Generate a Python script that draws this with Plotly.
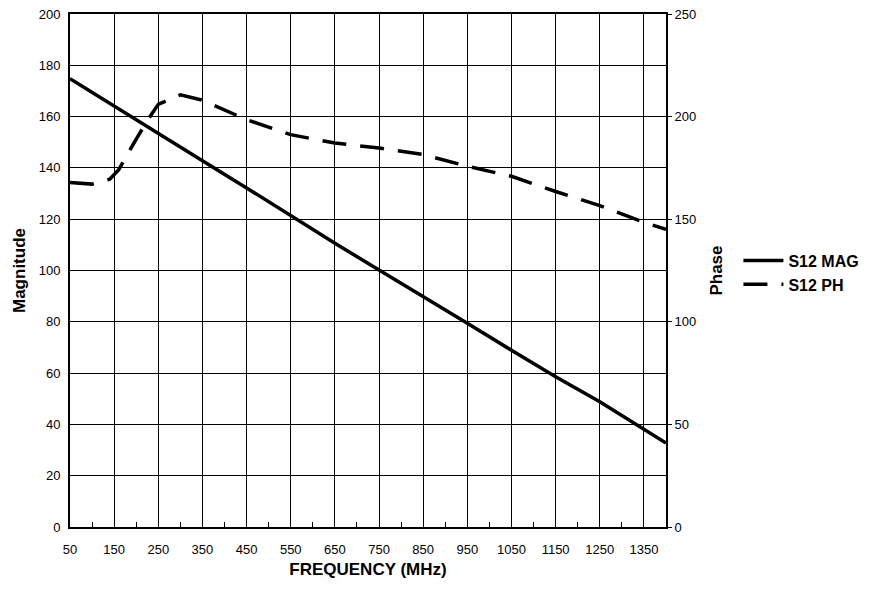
import plotly.graph_objects as go

freq_mag = [50, 150, 250, 350, 450, 550, 650, 750, 850, 950, 1050, 1150, 1250, 1350, 1400]
s12_mag = [174.8, 164.0, 153.6, 142.8, 132.2, 121.3, 110.6, 100.2, 89.6, 79.4, 68.9, 58.6, 48.8, 38.0, 32.7]

freq_ph = [50, 100, 140, 160, 200, 225, 250, 300, 350, 450, 550, 650, 750, 850, 950, 1050, 1150, 1250, 1350, 1400]
s12_ph = [167.9, 167.1, 169.5, 174.0, 189.0, 198.0, 206.0, 210.6, 208.0, 198.5, 191.2, 187.1, 184.7, 181.5, 175.8, 170.9, 163.5, 156.6, 148.5, 145.0]

x_ticks = list(range(50, 1400, 100))
x_minor = list(range(100, 1401, 100))

font = "Liberation Sans, Arial, sans-serif"

fig = go.Figure()
fig.add_trace(go.Scatter(x=freq_mag, y=s12_mag, mode="lines", name="<b>S12 MAG</b>",
                         line=dict(color="black", width=3.5)))
fig.add_trace(go.Scatter(x=freq_ph, y=s12_ph, mode="lines", name="<b>S12 PH</b>", yaxis="y2",
                         line=dict(color="black", width=3.5, dash="24px,14px")))

fig.update_layout(
    width=874, height=592,
    margin=dict(l=70, r=208, t=14, b=65, autoexpand=False),
    paper_bgcolor="white", plot_bgcolor="white",
    font=dict(family=font, size=13, color="black"),
    showlegend=True,
    legend=dict(x=1.1215, y=0.496, xanchor="left", yanchor="middle",
                font=dict(size=16, family=font, color="black"),
                bgcolor="rgba(0,0,0,0)", itemwidth=40),
    xaxis=dict(range=[50, 1400], tickvals=x_ticks, ticks="outside", ticklen=9,
               tickcolor="rgba(0,0,0,0)", showgrid=True, automargin=False,
               gridcolor="black", gridwidth=1, showline=True, linecolor="black",
               linewidth=2, mirror=True, zeroline=False,
               tickfont=dict(size=13),
               minor=dict(tickvals=x_minor, ticks="inside", ticklen=5, tickcolor="black", showgrid=False),
               title=dict(text="<b>FREQUENCY (MHz)</b>", font=dict(size=17), standoff=8)),
    yaxis=dict(range=[0, 200], dtick=20, showgrid=True, gridcolor="black", gridwidth=1,
               showline=True, linecolor="black", linewidth=2, mirror=True, zeroline=False,
               ticks="outside", ticklen=5, tickcolor="rgba(0,0,0,0)", automargin=False,
               tickfont=dict(size=13),
               title=dict(text="<b>Magnitude</b>", font=dict(size=17), standoff=9)),
    yaxis2=dict(range=[0, 250], dtick=50, overlaying="y", side="right", showgrid=False,
                zeroline=False, showline=False, ticks="outside", ticklen=5, tickcolor="black",
                automargin=False, tickfont=dict(size=13),
                title=dict(text="<b>Phase</b>", font=dict(size=17), standoff=14)),
)

fig.write_html("out.html", config={"displayModeBar": False},
               post_script="document.body.style.margin='0';")
